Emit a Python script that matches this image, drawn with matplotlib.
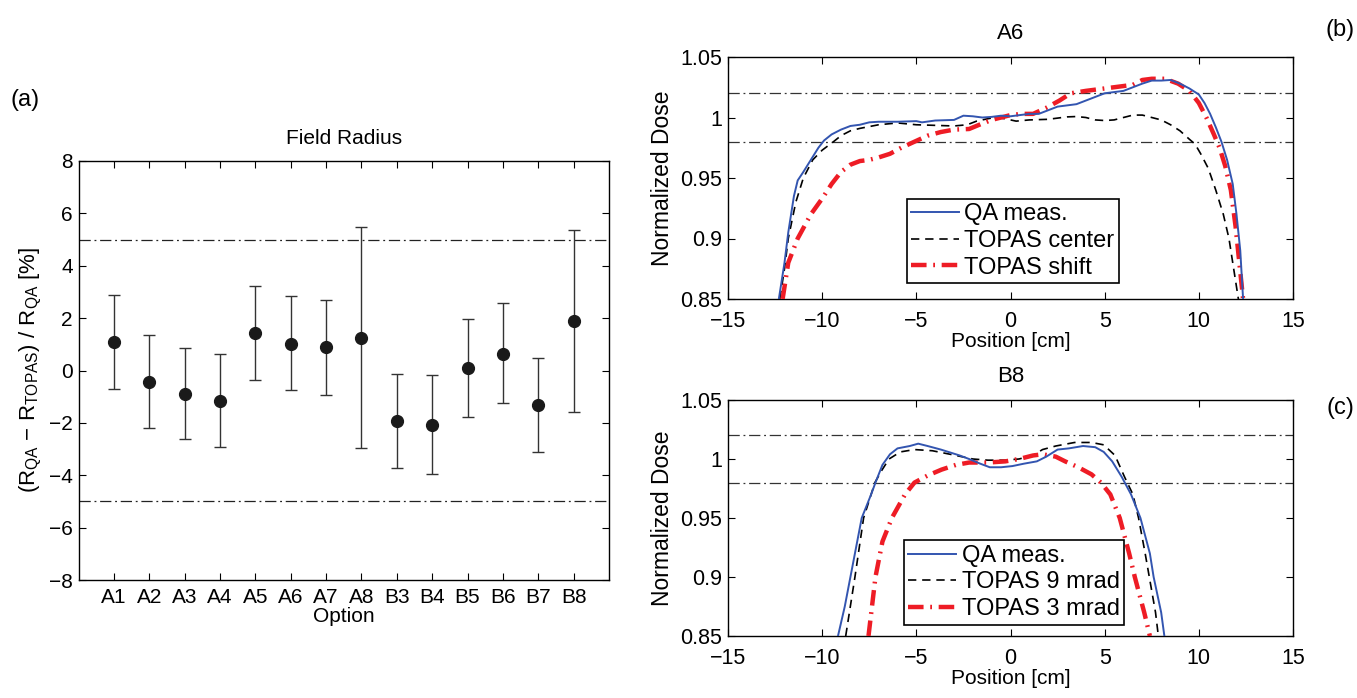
import matplotlib
matplotlib.use("Agg")
import matplotlib.pyplot as plt

plt.rcParams['font.family'] = ['Liberation Sans', 'DejaVu Sans']
plt.rcParams['mathtext.fontset'] = 'custom'
plt.rcParams['mathtext.rm'] = 'Liberation Sans'
plt.rcParams['mathtext.it'] = 'Liberation Sans'
plt.rcParams['axes.unicode_minus'] = True

# ---------------- Data: panel (a) ----------------
options = ["A1", "A2", "A3", "A4", "A5", "A6", "A7", "A8",
           "B3", "B4", "B5", "B6", "B7", "B8"]
radius_diff = [1.07, -0.44, -0.90, -1.17, 1.43, 1.03, 0.88, 1.26,
               -1.93, -2.09, 0.08, 0.64, -1.32, 1.89]
err_upper = [2.89, 1.34, 0.86, 0.62, 3.21, 2.85, 2.70, 5.49,
             -0.12, -0.18, 1.95, 2.59, 0.49, 5.38]
err_lower = [-0.71, -2.19, -2.63, -2.94, -0.37, -0.75, -0.93, -2.95,
             -3.73, -3.96, -1.77, -1.26, -3.10, -1.59]
tolerance_a = [5, -5]

# ---------------- Data: panel (b) A6 ----------------
a6_qa_x = [-12.3, -12.0, -11.8, -11.5, -11.3, -11.0, -10.6, -10.2, -9.9, -9.5,
           -9.0, -8.5, -8.0, -7.5, -7.0, -6.0, -5.0, -4.7, -4.0, -3.0,
           -2.5, -2.0, -1.5, -1.0, -0.5, 0.0, 0.5, 1.0, 1.5, 2.0,
           2.5, 3.0, 3.5, 4.0, 4.5, 5.0, 5.5, 6.0, 6.5, 7.0,
           7.5, 8.0, 8.5, 9.0, 9.5, 10.0, 10.3, 10.6, 10.9, 11.2,
           11.5, 11.8, 12.0, 12.2, 12.35]
a6_qa_y = [0.85, 0.88, 0.905, 0.935, 0.948, 0.955, 0.965, 0.975, 0.981, 0.986,
           0.990, 0.993, 0.994, 0.996, 0.9965, 0.9965, 0.997, 0.996, 0.9975, 0.998,
           1.0015, 1.001, 1.000, 1.0005, 1.0015, 1.001, 1.002, 1.003, 1.003, 1.006,
           1.009, 1.010, 1.011, 1.014, 1.017, 1.020, 1.021, 1.022, 1.025, 1.028,
           1.0305, 1.0305, 1.031, 1.028, 1.024, 1.019, 1.012, 1.003, 0.992, 0.980,
           0.965, 0.945, 0.92, 0.89, 0.85]
a6_center_x = [-12.25, -12.0, -11.8, -11.4, -11.0, -10.5, -10.0, -9.4, -9.0, -8.5,
               -8.0, -7.0, -6.0, -5.0, -4.0, -3.0, -2.3, -1.8, -1.2, -0.8,
               -0.3, 0.3, 1.0, 2.0, 3.0, 3.5, 4.0, 4.5, 5.0, 5.5,
               6.0, 6.5, 7.0, 7.5, 8.0, 8.5, 9.0, 9.5, 9.8, 10.1,
               10.5, 10.9, 11.3, 11.6, 11.9, 12.1]
a6_center_y = [0.85, 0.875, 0.90, 0.93, 0.95, 0.965, 0.973, 0.980, 0.985, 0.989,
               0.991, 0.994, 0.9955, 0.994, 0.9935, 0.993, 0.994, 0.997, 0.999, 1.000,
               0.999, 0.997, 0.998, 0.9985, 1.0005, 1.0008, 1.000, 0.998, 0.9975, 0.998,
               1.000, 1.002, 1.002, 1.000, 0.998, 0.994, 0.989, 0.982, 0.978, 0.970,
               0.958, 0.940, 0.920, 0.900, 0.870, 0.85]
a6_shift_x = [-12.1, -11.8, -11.3, -10.6, -10.0, -9.5, -9.0, -8.5, -8.0, -7.5,
              -7.0, -6.4, -5.8, -5.1, -4.4, -3.7, -3.0, -2.2, -1.5, -1.0,
              -0.5, 0.0, 0.6, 1.2, 1.9, 2.6, 3.2, 4.0, 5.0, 6.0,
              6.5, 7.0, 7.5, 8.2, 8.9, 9.5, 10.0, 10.4, 10.8, 11.1,
              11.4, 11.7, 11.95, 12.15, 12.35]
a6_shift_y = [0.85, 0.88, 0.90, 0.92, 0.933, 0.945, 0.955, 0.961, 0.964, 0.965,
              0.967, 0.970, 0.975, 0.980, 0.985, 0.988, 0.990, 0.9905, 0.995, 0.998,
              1.000, 1.002, 1.003, 1.003, 1.008, 1.014, 1.020, 1.022, 1.024, 1.026,
              1.027, 1.031, 1.032, 1.032, 1.028, 1.022, 1.012, 1.000, 0.986, 0.975,
              0.960, 0.940, 0.910, 0.880, 0.85]

# ---------------- Data: panel (c) B8 ----------------
b8_qa_x = [-9.16, -8.8, -8.5, -7.9, -7.4, -7.17, -6.8, -6.4, -6.0, -5.35,
           -4.9, -4.4, -3.7, -2.7, -2.2, -1.6, -1.1, -0.5, 0.1, 0.7,
           1.4, 1.9, 2.5, 3.1, 3.85, 4.5, 4.95, 5.4, 5.9, 6.4,
           6.9, 7.4, 7.6, 8.0, 8.17]
b8_qa_y = [0.85, 0.875, 0.90, 0.95, 0.97, 0.98, 0.995, 1.004, 1.009, 1.011,
           1.013, 1.011, 1.008, 1.003, 1.000, 0.996, 0.993, 0.993, 0.994, 0.996,
           0.998, 1.002, 1.008, 1.009, 1.011, 1.010, 1.006, 0.998, 0.985, 0.970,
           0.950, 0.920, 0.900, 0.870, 0.85]
b8_9mrad_x = [-8.75, -8.26, -7.8, -7.2, -6.85, -6.45, -5.85, -5.1, -4.15, -3.2,
              -2.0, -1.2, -0.3, 0.45, 1.2, 1.7, 2.4, 3.4, 4.3, 4.95,
              5.55, 6.05, 6.5, 6.8, 7.15, 7.37, 7.7, 7.85]
b8_9mrad_y = [0.85, 0.90, 0.95, 0.98, 0.99, 1.000, 1.006, 1.008, 1.007, 1.004,
              1.000, 0.999, 0.999, 1.000, 1.003, 1.008, 1.011, 1.014, 1.014, 1.012,
              1.003, 0.985, 0.970, 0.950, 0.920, 0.900, 0.870, 0.85]
b8_3mrad_x = [-7.54, -7.17, -6.8, -6.3, -5.6, -5.1, -4.4, -3.66, -2.9, -2.2,
              -1.2, -0.27, 0.45, 1.2, 1.7, 2.4, 2.9, 3.6, 4.3, 4.8,
              5.3, 5.8, 6.3, 6.6, 7.1, 7.4]
b8_3mrad_y = [0.85, 0.90, 0.93, 0.95, 0.97, 0.98, 0.986, 0.991, 0.995, 0.997,
              0.997, 0.998, 1.000, 1.003, 1.004, 1.002, 0.998, 0.993, 0.987, 0.980,
              0.970, 0.950, 0.920, 0.900, 0.870, 0.85]
tolerance_dose = [1.02, 0.98]

dose_ticks = [0.85, 0.9, 0.95, 1.0, 1.05]
dose_tick_labels = ["0.85", "0.9", "0.95", "1", "1.05"]
pos_ticks = [-15, -10, -5, 0, 5, 10, 15]

# ---------------- Figure ----------------
W, H = 1357, 698
fig = plt.figure(figsize=(W / 100, H / 100), dpi=100)

def px_axes(x0, y0, x1, y1):
    return fig.add_axes([x0 / W, 1 - y1 / H, (x1 - x0) / W, (y1 - y0) / H])

def matlab_style(ax, fs, xpad=4):
    ax.tick_params(direction='in', top=True, right=True, length=5,
                   width=0.8, labelsize=fs)
    ax.tick_params(axis='x', pad=xpad)
    ax.tick_params(axis='y', pad=4)
    for s in ax.spines.values():
        s.set_linewidth(1.0)

# Panel (a)
ax1 = px_axes(78.5, 161, 609, 580)
xpos = list(range(1, len(options) + 1))
yerr = [[r - lo for r, lo in zip(radius_diff, err_lower)],
        [hi - r for r, hi in zip(radius_diff, err_upper)]]
ax1.errorbar(xpos, radius_diff, yerr=yerr, fmt='o', color='#1a1a1a',
             ecolor='#333333', elinewidth=1.0, capsize=4.5, capthick=1.0,
             markersize=8.5, zorder=3)
for t in tolerance_a:
    ax1.axhline(t, color='#222222', lw=0.9, ls=(0, (9, 3, 1.5, 3)))
ax1.set_xlim(0, 15)
ax1.set_ylim(-8, 8)
ax1.set_xticks(xpos)
ax1.set_xticklabels(options)
ax1.set_yticks(range(-8, 9, 2))
matlab_style(ax1, 15, xpad=6)
ax1.set_title("Field Radius", fontsize=15, pad=12)
ax1.set_xlabel("Option", fontsize=15, labelpad=0)
ax1.set_ylabel(r"(R$_{\mathrm{QA}}$ $-$ R$_{\mathrm{TOPAS}}$) / R$_{\mathrm{QA}}$ [%]",
               fontsize=16, labelpad=4)

# Panels (b), (c)
blue = '#3355b0'
red = '#ee1c25'

def dose_panel(ax, title, series, labels, legend_px):
    (qx, qy), (cx, cy), (sx, sy) = series
    ax.plot(qx, qy, color=blue, lw=1.4, label=labels[0], zorder=4)
    ax.plot(cx, cy, color='black', lw=1.2, ls=(0, (5, 3.5)), label=labels[1], zorder=3)
    ax.plot(sx, sy, color=red, lw=3.2, ls=(0, (3.5, 1.5, 0.4, 1.5)),
            label=labels[2], zorder=3)
    for t in tolerance_dose:
        ax.axhline(t, color='#333333', lw=0.9, ls=(0, (9, 3, 1.5, 3)), zorder=2)
    ax.set_xlim(-15, 15)
    ax.set_ylim(0.85, 1.05)
    ax.set_xticks(pos_ticks)
    ax.set_yticks(dose_ticks)
    ax.set_yticklabels(dose_tick_labels)
    matlab_style(ax, 15.5, xpad=9)
    ax.set_title(title, fontsize=16, pad=13)
    ax.set_xlabel("Position [cm]", fontsize=15, labelpad=0)
    ax.set_ylabel("Normalized Dose", fontsize=16.5, labelpad=5)
    x0, y0, x1, y1 = legend_px
    pos = ax.get_position()
    bx = (x0 / W - pos.x0) / pos.width
    by = ((1 - y1 / H) - pos.y0) / pos.height
    bw = (x1 - x0) / W / pos.width
    bh = (y1 - y0) / H / pos.height
    leg = ax.legend(loc='center', bbox_to_anchor=(bx, by, bw, bh), fontsize=17,
                    fancybox=False, framealpha=1, edgecolor='black',
                    handlelength=2.0, handletextpad=0.25, borderpad=0.2,
                    labelspacing=0.2, borderaxespad=0)
    leg.get_frame().set_linewidth(1.2)

ax2 = px_axes(728, 57, 1293, 299)
dose_panel(ax2, "A6",
           [(a6_qa_x, a6_qa_y), (a6_center_x, a6_center_y), (a6_shift_x, a6_shift_y)],
           ["QA meas.", "TOPAS center", "TOPAS shift"],
           (904, 193, 1122, 289))

ax3 = px_axes(728, 400, 1293, 636)
dose_panel(ax3, "B8",
           [(b8_qa_x, b8_qa_y), (b8_9mrad_x, b8_9mrad_y), (b8_3mrad_x, b8_3mrad_y)],
           ["QA meas.", "TOPAS 9 mrad", "TOPAS 3 mrad"],
           (902, 535, 1126, 630))

fig.text(25 / W, 1 - 100 / H, "(a)", fontsize=17, ha='center', va='center')
fig.text(1340 / W, 1 - 30 / H, "(b)", fontsize=17, ha='center', va='center')
fig.text(1340 / W, 1 - 408 / H, "(c)", fontsize=17, ha='center', va='center')

fig.savefig("out.png", dpi=100)
